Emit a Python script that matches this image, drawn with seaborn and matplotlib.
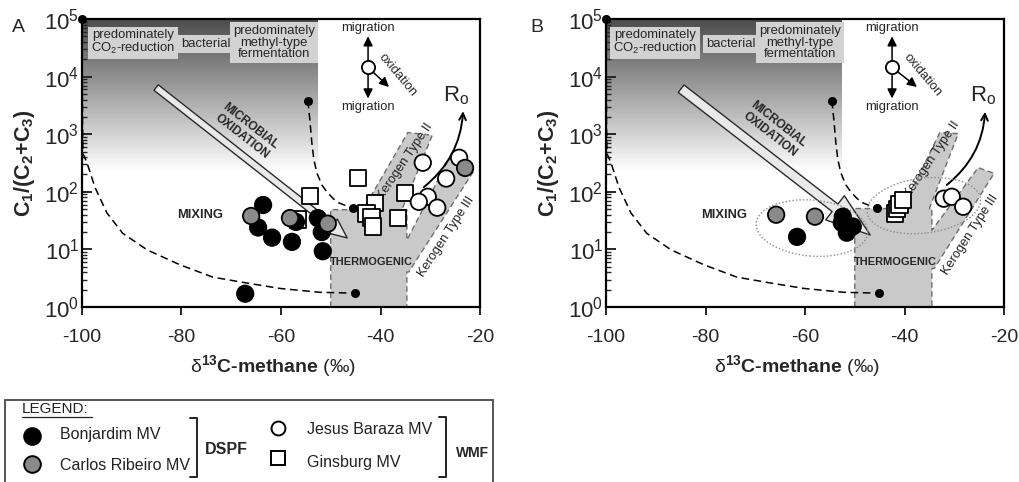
import numpy as np
import pandas as pd
import matplotlib
matplotlib.use("Agg")
import matplotlib.pyplot as plt
import seaborn as sns
from matplotlib.patches import Polygon, Ellipse, Rectangle
from matplotlib.lines import Line2D
import matplotlib.transforms as mtransforms
from matplotlib.ticker import LogLocator, NullFormatter

sns.set_style("ticks")
plt.rcParams['font.family'] = ['Liberation Sans', 'DejaVu Sans']
plt.rcParams['mathtext.fontset'] = 'custom'
plt.rcParams['mathtext.rm'] = 'Liberation Sans'
plt.rcParams['mathtext.bf'] = 'Liberation Sans:bold'
plt.rcParams['mathtext.it'] = 'Liberation Sans:italic'
plt.rcParams['mathtext.sf'] = 'Liberation Sans'
plt.rcParams['axes.unicode_minus'] = False

# ---------------- data ----------------
sites = ["Ginsburg MV", "Jesus Baraza MV", "Bonjardim MV", "Carlos Ribeiro MV"]

# Panel A
bonj_A_d13c = [-63.6, -64.6, -61.8, -57.8, -57.0, -52.6, -51.8, -51.6, -67.2]
bonj_A_ratio = [59, 24, 16, 13.5, 30, 35, 20, 9.3, 1.7]
carlos_A_d13c = [-66.0, -58.2, -50.6, -23.0]
carlos_A_ratio = [38, 35, 28, 260]
jesus_A_d13c = [-31.5, -24.2, -26.8, -30.5, -32.3, -28.6]
jesus_A_ratio = [320, 390, 170, 82, 67, 53]
gins_A_d13c = [-44.5, -54.2, -56.6, -41.1, -42.8, -41.8, -41.5, -36.5, -35.1]
gins_A_ratio = [175, 85, 33, 64, 42, 36, 25, 35, 96]

# Panel B
bonj_B_d13c = [-61.6, -52.4, -52.6, -50.4, -51.6]
bonj_B_ratio = [16.5, 37, 29, 25, 19.5]
carlos_B_d13c = [-65.8, -58.0]
carlos_B_ratio = [40, 37]
jesus_B_d13c = [-32.1, -30.5, -28.2]
jesus_B_ratio = [76, 82, 55]
gins_B_d13c = [-41.9, -41.5, -41.0, -40.3]
gins_B_ratio = [42, 50, 60, 72]

# mixing curves
mix_low_d13c = [-100.0, -99.9, -99.8, -99.0, -97.4, -95.0, -91.8, -86.9, -80.3, -73.7, -66.8, -60.2, -52.2, -45.1]
mix_low_ratio = [1e5, 1600, 460, 320, 120, 43, 19, 9.8, 5.4, 3.3, 2.6, 2.1, 1.8, 1.74]
mix_up_d13c = [-54.6, -54.2, -53.8, -53.4, -52.8, -51.8, -50.8, -49.5, -48.5, -47.1, -45.5]
mix_up_ratio = [3800, 1780, 710, 363, 214, 132, 100, 76, 65, 58, 52]
end_d13c = [-100.0, -45.1, -54.6, -45.5]
end_ratio = [1e5, 1.74, 3800, 52]

# thermogenic field outline (d13C, log10 ratio)
thermo_A_x = [-50, -50, -43.5, -34.5, -29.6, -35.7, -34.7, -34.7, -25.6, -21.2, -34.3, -34.7, -34.7]
thermo_A_logy = [0, 1.69, 1.69, 3.03, 2.98, 1.69, 1.69, 1.16, 2.68, 2.37, 0.61, 0.61, 0]
thermo_B_x = [-50, -50, -40.3, -32.9, -29.2, -35.0, -34.5, -34.5, -25.2, -22.0, -34.0, -34.5, -34.5]
thermo_B_logy = [0, 1.71, 1.71, 3.03, 3.01, 1.71, 1.71, 1.33, 2.42, 2.32, 0.67, 0.67, 0]

xticks = [-100, -80, -60, -40, -20]

palette = {"Bonjardim MV": "black", "Carlos Ribeiro MV": "#8a8a8a",
           "Jesus Baraza MV": "white", "Ginsburg MV": "white"}
markers = {"Bonjardim MV": "o", "Carlos Ribeiro MV": "o",
           "Jesus Baraza MV": "o", "Ginsburg MV": "s"}


def make_df(g, j, b, c):
    rows = []
    for site, (xs, ys) in zip(sites, [g, j, b, c]):
        for x, y in zip(xs, ys):
            rows.append((site, x, y))
    return pd.DataFrame(rows, columns=["site", "d13c", "ratio"])


dfA = make_df((gins_A_d13c, gins_A_ratio), (jesus_A_d13c, jesus_A_ratio),
              (bonj_A_d13c, bonj_A_ratio), (carlos_A_d13c, carlos_A_ratio))
dfB = make_df((gins_B_d13c, gins_B_ratio), (jesus_B_d13c, jesus_B_ratio),
              (bonj_B_d13c, bonj_B_ratio), (carlos_B_d13c, carlos_B_ratio))

W, H = 1019, 482
fig = plt.figure(figsize=(W / 100, H / 100), dpi=100)
axA = fig.add_axes([82 / W, 1 - 307 / H, 398 / W, 288 / H])
axB = fig.add_axes([606 / W, 1 - 307 / H, 398 / W, 288 / H])

TXT = 9.4


def panel(ax, df, thermo_x, thermo_logy, cfg):
    ax.set_yscale('log')
    # gradient (bacterial field)
    grad = np.linspace(0, 1, 256)[:, None]
    vals = 0.30 + grad * 0.70
    ax.imshow(vals, cmap='gray', vmin=0, vmax=1, aspect='auto',
              extent=[0, 0.592, 0.47, 1.0], transform=ax.transAxes,
              origin='upper', zorder=0, interpolation='bilinear')
    # thermogenic polygon
    poly = Polygon(np.column_stack([thermo_x, 10 ** np.array(thermo_logy)]),
                   closed=True, fc='#c9c9c9', ec='#6e6e6e', lw=1.0,
                   ls=(0, (4, 2.5)), zorder=1)
    ax.add_patch(poly)
    # mixing curves
    ax.plot(mix_low_d13c, mix_low_ratio, color='black', lw=1.1, ls=(0, (5, 3)), zorder=2)
    ax.plot(mix_up_d13c, mix_up_ratio, color='black', lw=1.1, ls=(0, (5, 3)), zorder=2)
    ax.plot(end_d13c, end_ratio, 'o', color='black', ms=5.5, zorder=3, clip_on=False)

    # microbial oxidation arrow
    ax.annotate('', xy=cfg['arrow_tip'], xytext=cfg['arrow_tail'],
                arrowprops=dict(arrowstyle=cfg['arrow_style'], fc='#e9e9e9',
                                ec='#2a2a2a', lw=1.0, mutation_scale=10,
                                shrinkA=0, shrinkB=0), zorder=3)
    ax.text(*cfg['mo_pos'], "MICROBIAL\nOXIDATION", rotation=-38, rotation_mode='anchor',
            ha='center', va='center', fontsize=8.6, fontweight='bold', zorder=4,
            linespacing=1.1)

    # scatter
    sns.scatterplot(data=df, x="d13c", y="ratio", hue="site", style="site",
                    palette=palette, markers=markers, s=140, edgecolor='black',
                    linewidth=1.3, legend=False, ax=ax, zorder=6)

    # ellipses (panel B)
    for (cx, cy, w, h, ang) in cfg.get('ellipses', []):
        tr = fig.dpi_scale_trans + mtransforms.ScaledTranslation(cx, cy, ax.transData)
        e = Ellipse((0, 0), w / 100, h / 100, angle=ang, fill=False, ec='#8a8a8a',
                    lw=1.0, ls=(0, (1, 1.5)), transform=tr, zorder=5)
        ax.add_patch(e)

    # text boxes
    box = dict(boxstyle='square,pad=0.22', fc='#d2d2d2', ec='none')
    ax.text(cfg['box_x'][0], 10 ** 4.59, "predominately\nCO$_2$-reduction", ha='center',
            va='center', fontsize=TXT, bbox=box, zorder=4, linespacing=1.0)
    ax.text(cfg['box_x'][1], 10 ** 4.57, "bacterial", ha='center', va='center',
            fontsize=TXT, bbox=box, zorder=4)
    ax.text(cfg['box_x'][2], 10 ** 4.59, "predominately\nmethyl-type\nfermentation",
            ha='center', va='center', fontsize=TXT, bbox=box, zorder=4, linespacing=0.98)

    # labels
    ax.text(-76.2, 10 ** 1.59, "MIXING", ha='center', va='center', fontsize=9.3,
            fontweight='bold', zorder=4)
    ax.text(-41.8, 10 ** 0.78, "THERMOGENIC", ha='center', va='center', fontsize=7.9,
            fontweight='bold', zorder=4)
    ax.text(*cfg['k2_pos'], "Kerogen Type II", rotation=56, rotation_mode='anchor',
            ha='center', va='center', fontsize=9.2, color='#222222', zorder=4)
    ax.text(*cfg['k3_pos'], "Kerogen Type III", rotation=57, rotation_mode='anchor',
            ha='center', va='center', fontsize=9.2, color='#222222', zorder=4)

    # migration / oxidation key
    c = (-42.5, 10 ** 4.16)
    for tip in [(-42.5, 10 ** 4.70), (-42.5, 10 ** 3.62), (cfg['ox_tip'], 10 ** 3.82)]:
        ax.annotate('', xy=tip, xytext=c,
                    arrowprops=dict(arrowstyle='-|>', color='black', lw=1.1,
                                    mutation_scale=14, shrinkA=5, shrinkB=0), zorder=4)
    ax.plot([c[0]], [c[1]], 'o', mfc='white', mec='black', ms=9.5, mew=1.3, zorder=5)
    ax.text(-42.5, 10 ** 4.84, "migration", ha='center', va='center', fontsize=TXT, zorder=4)
    ax.text(-42.5, 10 ** 3.47, "migration", ha='center', va='center', fontsize=TXT, zorder=4)
    ax.text(cfg['ox_txt'], 10 ** 4.03, "oxidation", rotation=-50, rotation_mode='anchor',
            ha='center', va='center', fontsize=TXT, zorder=4)

    # Ro arrow
    ax.annotate('', xy=cfg['ro_tip'], xytext=cfg['ro_tail'],
                arrowprops=dict(arrowstyle='->', color='black', lw=1.4,
                                connectionstyle='arc3,rad=0.22', mutation_scale=12,
                                shrinkA=0, shrinkB=0), zorder=4)
    ax.text(cfg['ro_txt'], 10 ** 3.66, r"R$_{\mathrm{o}}$", ha='center', va='center',
            fontsize=16, zorder=4)

    # axes
    ax.set_xlim(-100, -20)
    ax.set_ylim(1, 1e5)
    ax.set_xticks(xticks)
    ax.set_xticklabels([str(t) for t in xticks])
    ax.yaxis.set_major_locator(LogLocator(base=10, numticks=10))
    ax.yaxis.set_minor_locator(LogLocator(base=10, subs=np.arange(2, 10), numticks=10))
    ax.yaxis.set_minor_formatter(NullFormatter())
    ax.tick_params(axis='y', which='major', direction='in', length=7, width=1.4,
                   labelsize=16, pad=2, left=True)
    ax.tick_params(axis='y', which='minor', direction='in', length=3.5, width=1.0, left=True)
    ax.tick_params(axis='x', which='major', direction='out', length=6, width=1.4,
                   labelsize=14, pad=10, bottom=True)
    for sp in ax.spines.values():
        sp.set_visible(True)
        sp.set_linewidth(1.6)
        sp.set_color('black')
        sp.set_zorder(7)
    ax.set_ylabel(r"$\mathbf{C_1/(C_2{+}C_3)}$", fontsize=15.5)
    ax.yaxis.set_label_coords(-0.112, 0.5)
    ax.set_xlabel(r"$\mathrm{\delta}^{\mathbf{13}}$C-methane $\mathrm{(‰)}$", fontsize=14,
                  fontweight='bold')
    ax.xaxis.set_label_coords(0.48, -0.16)


cfgA = dict(arrow_tail=(-85.1, 10 ** 3.81), arrow_tip=(-46.7, 10 ** 1.2),
            arrow_style='simple,head_width=1.25,head_length=1.4,tail_width=0.5',
            mo_pos=(-67.0, 10 ** 3.05), box_x=(-89.7, -75.1, -61.4),
            k2_pos=(-35.1, 10 ** 2.52), k3_pos=(-26.8, 10 ** 1.22),
            ox_tip=-38.3, ox_txt=-36.5,
            ro_tail=(-31.3, 10 ** 2.08), ro_tip=(-23.4, 10 ** 3.40), ro_txt=-24.8)
cfgB = dict(arrow_tail=(-84.9, 10 ** 3.79), arrow_tip=(-46.9, 10 ** 1.25),
            arrow_style='simple,head_width=2.2,head_length=3.2,tail_width=0.68',
            mo_pos=(-66.2, 10 ** 3.08), box_x=(-90.2, -74.9, -61.0),
            k2_pos=(-34.5, 10 ** 2.56), k3_pos=(-26.8, 10 ** 1.25),
            ox_tip=-37.5, ox_txt=-36.3,
            ro_tail=(-31.5, 10 ** 2.12), ro_tip=(-23.8, 10 ** 3.39), ro_txt=-24.2,
            ellipses=[(-58.6, 10 ** 1.37, 112, 56, -5), (-36.1, 10 ** 1.76, 114, 55, 7)])

panel(axA, dfA, thermo_A_x, thermo_A_logy, cfgA)
panel(axB, dfB, thermo_B_x, thermo_B_logy, cfgB)

fig.text(18 / W, 1 - 27 / H, "A", fontsize=14, ha='center', va='center')
fig.text(537 / W, 1 - 27 / H, "B", fontsize=14, ha='center', va='center')


# ---------------- legend ----------------
def fx(px):
    return px / W


def fy(py):
    return 1 - py / H


fig.add_artist(Rectangle((fx(5), -0.1), fx(493) - fx(5), fy(400) + 0.1,
                         transform=fig.transFigure, fill=False, ec='#555555', lw=1.4,
                         clip_on=False))
fig.text(fx(22), fy(409), "LEGEND:", fontsize=11, ha='left', va='center', color='#222')
fig.add_artist(Line2D([fx(22), fx(92)], [fy(416.5), fy(416.5)], color='#222', lw=0.9,
                      transform=fig.transFigure))
legend_rows = [("Bonjardim MV", 32, 436, 'o', 'black', 12, 60, 435),
               ("Carlos Ribeiro MV", 32, 464, 'o', '#8a8a8a', 12, 60, 465),
               ("Jesus Baraza MV", 278, 428, 'o', 'white', 10, 307, 430),
               ("Ginsburg MV", 278, 458, 's', 'white', 10.5, 307, 462)]
for name, mx, my, mk, fc, ms, tx, ty in legend_rows:
    fig.add_artist(Line2D([fx(mx)], [fy(my)], marker=mk, ms=ms, mfc=fc, mec='black',
                          mew=1.4, ls='none', transform=fig.transFigure))
    fig.text(fx(tx), fy(ty), name, fontsize=11.5, ha='left', va='center', color='#222')

for bx, y0, y1 in [(197, 418, 477), (446, 417, 477)]:
    fig.add_artist(Line2D([fx(bx - 7), fx(bx), fx(bx), fx(bx - 7)],
                          [fy(y0), fy(y0), fy(y1), fy(y1)], color='#222', lw=1.4,
                          transform=fig.transFigure))
fig.text(fx(205), fy(449), "DSPF", fontsize=11.5, fontweight='bold', ha='left', va='center')
fig.text(fx(456), fy(453), "WMF", fontsize=10, fontweight='bold', ha='left', va='center')

fig.savefig("out.png", dpi=100)
